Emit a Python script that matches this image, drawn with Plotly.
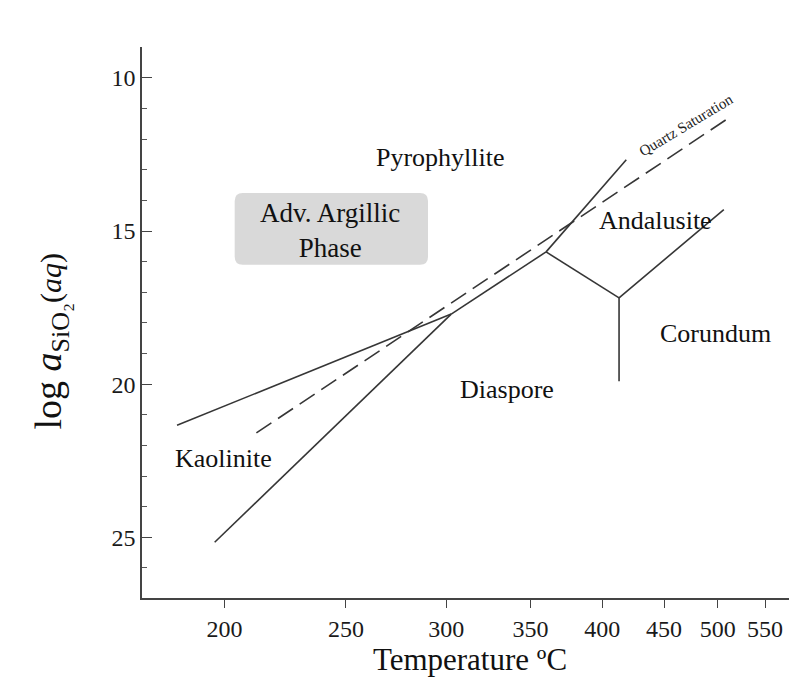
import plotly.graph_objects as go

# ---------------- data (temperature in °C, log a SiO2(aq)) ----------------
kao_pyr_T = [183, 302.7]
kao_pyr_Y = [21.34, 17.71]

kao_dia_T = [196.4, 302.7]
kao_dia_Y = [25.16, 17.71]

pyr_dia_T = [302.7, 360.2]
pyr_dia_Y = [17.71, 15.68]

pyr_and_T = [360.2, 418.6]
pyr_and_Y = [15.68, 12.67]

dia_and_T = [360.2, 412.9]
dia_and_Y = [15.68, 17.18]

dia_cor_T = [412.9, 412.9]
dia_cor_Y = [17.18, 19.9]

and_cor_T = [412.9, 506]
and_cor_Y = [17.18, 14.3]

quartz_T = [212.2, 508.5]
quartz_Y = [21.59, 11.36]

x_tick_labels = [200, 250, 300, 350, 400, 450, 500, 550]
y_tick_vals = [10, 15, 20, 25]

phase_labels = ["Pyrophyllite", "Kaolinite", "Diaspore", "Andalusite", "Corundum"]
phase_T = [297, 199.5, 335, 442.7, 498]
phase_Y = [12.61, 22.41, 20.16, 14.64, 18.36]


def inv(tc):
    """Temperature in °C -> 1000/T(K) (reciprocal temperature scale)."""
    return 1000.0 / (tc + 273.15)


LINE_COL = "#363636"
FONT = "Liberation Serif, Times New Roman, serif"

fig = go.Figure()

solid_sets = [
    (kao_pyr_T, kao_pyr_Y),
    (kao_dia_T, kao_dia_Y),
    (pyr_dia_T, pyr_dia_Y),
    (pyr_and_T, pyr_and_Y),
    (dia_and_T, dia_and_Y),
    (dia_cor_T, dia_cor_Y),
    (and_cor_T, and_cor_Y),
]
for tt, yy in solid_sets:
    fig.add_trace(go.Scatter(
        x=[inv(t) for t in tt], y=yy, mode="lines",
        line=dict(color=LINE_COL, width=1.6), showlegend=False, hoverinfo="skip"))

fig.add_trace(go.Scatter(
    x=[inv(t) for t in quartz_T], y=quartz_Y, mode="lines",
    line=dict(color=LINE_COL, width=1.6, dash="18px,8px"),
    showlegend=False, hoverinfo="skip"))

# phase labels
for name, t, y in zip(phase_labels, phase_T, phase_Y):
    fig.add_annotation(x=inv(t), y=y, text=name, showarrow=False,
                       font=dict(family=FONT, size=26, color="#111"))

# Adv. Argillic Phase box (rounded rectangle, paper coords)
x0, x1 = 0.1413, 0.4360
y0, y1 = 0.6049, 0.7350
rx, ry = 0.0122, 0.0145
path = (f"M {x0+rx},{y0} L {x1-rx},{y0} Q {x1},{y0} {x1},{y0+ry} "
        f"L {x1},{y1-ry} Q {x1},{y1} {x1-rx},{y1} L {x0+rx},{y1} "
        f"Q {x0},{y1} {x0},{y1-ry} L {x0},{y0+ry} Q {x0},{y0} {x0+rx},{y0} Z")
fig.add_shape(type="path", path=path, xref="paper", yref="paper",
              fillcolor="#d9d9d9", line=dict(width=0), layer="below")
fig.add_annotation(x=inv(243), y=14.98, text="Adv. Argillic<br>Phase",
                   showarrow=False, align="center",
                   font=dict(family=FONT, size=27, color="#111"))

# Quartz saturation label
fig.add_annotation(x=inv(470), y=11.55, text="Quartz Saturation", showarrow=False,
                   textangle=-31, font=dict(family=FONT, size=15, color="#222"))

# y-axis title
ytitle = ("log <i>a</i><sub><span style='font-size:26px'>SiO₂</span></sub>"
          "<span style='font-size:30px'>(<i>aq</i>)</span>")
fig.add_annotation(xref="paper", yref="y", x=-0.178, y=18.6, xanchor="left",
                   text=ytitle, showarrow=False,
                   textangle=-90, font=dict(family=FONT, size=38, color="#111"))

fig.update_layout(
    width=797, height=681,
    margin=dict(l=134, r=7, t=39, b=91),
    paper_bgcolor="white", plot_bgcolor="white",
    font=dict(family=FONT, color="#1a1a1a"),
    xaxis=dict(
        range=[2.2505, 1.1602],
        tickvals=[inv(t) for t in x_tick_labels],
        ticktext=[str(t) for t in x_tick_labels],
        ticks="outside", ticklen=8, tickwidth=1.4, tickcolor="#444",
        showline=True, linecolor="#444", linewidth=1.6,
        showgrid=False, zeroline=False,
        tickfont=dict(family=FONT, size=24, color="#1a1a1a"),
        title=dict(text="Temperature ºC", font=dict(family=FONT, size=31, color="#111"),
                   standoff=6),
    ),
    yaxis=dict(
        range=[26.98, 8.99],
        tickvals=y_tick_vals,
        ticks="inside", ticklen=10, tickwidth=1.4, tickcolor="#444",
        minor=dict(dtick=1, ticks="inside", ticklen=5, tickwidth=1.2, tickcolor="#555"),
        showline=True, linecolor="#444", linewidth=1.6,
        showgrid=False, zeroline=False,
        tickfont=dict(family=FONT, size=24, color="#1a1a1a"),
    ),
)

fig.write_html("out.html")
